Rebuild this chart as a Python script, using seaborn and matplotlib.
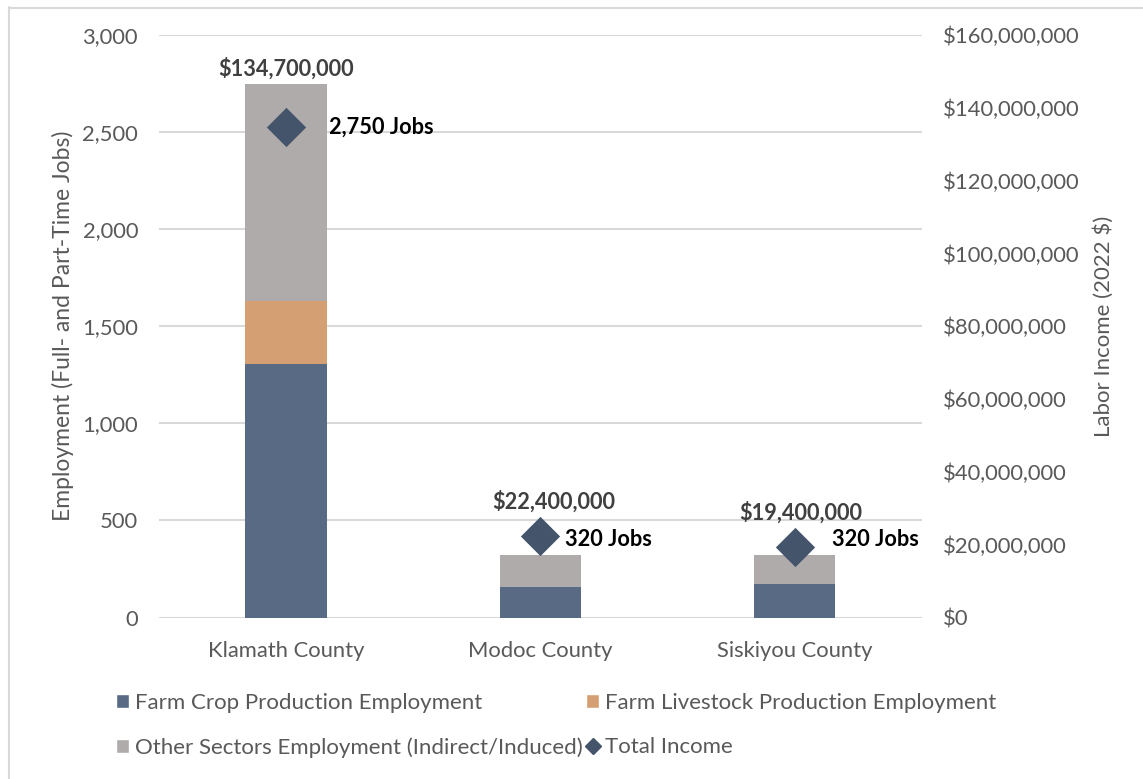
import matplotlib
matplotlib.use("Agg")
import matplotlib.pyplot as plt
from matplotlib.lines import Line2D
from matplotlib.patches import Patch
import seaborn as sns

# Jobs by sector and labor income by county
counties = ["Klamath County", "Modoc County", "Siskiyou County"]
crop_jobs = [1305, 155, 175]
livestock_jobs = [325, 0, 0]
other_jobs = [1120, 165, 145]
total_jobs = [2750, 320, 320]
total_income = [134700000, 22400000, 19400000]

left_ticks = [0, 500, 1000, 1500, 2000, 2500, 3000]
right_ticks = [0, 20e6, 40e6, 60e6, 80e6, 100e6, 120e6, 140e6, 160e6]

C_CROP = "#596A84"
C_LIVE = "#D4A073"
C_OTHER = "#AFABAB"
C_INCOME = "#44546A"
C_TEXT = "#595959"
C_GRID = "#D9D9D9"

sns.set_theme(style="white")
plt.rcParams["font.family"] = ["Lato", "DejaVu Sans"]

fig = plt.figure(figsize=(11.43, 7.79), dpi=100)
ax = fig.add_axes([0.139, 0.2073, 0.6676, 0.7477])

x = list(range(len(counties)))
bw = 0.32
bottom2 = [a + b for a, b in zip(crop_jobs, livestock_jobs)]

sns.barplot(x=x, y=crop_jobs, ax=ax, color=C_CROP, width=bw, saturation=1,
            native_scale=True, linewidth=0)
sns.barplot(x=x, y=livestock_jobs, bottom=crop_jobs, ax=ax, color=C_LIVE,
            width=bw, saturation=1, native_scale=True, linewidth=0)
sns.barplot(x=x, y=other_jobs, bottom=bottom2, ax=ax, color=C_OTHER,
            width=bw, saturation=1, native_scale=True, linewidth=0)

ax.set_xlim(-0.5, 2.5)
ax.set_ylim(0, 3000)
ax.set_yticks(left_ticks)
ax.set_yticklabels([f"{v:,}" for v in left_ticks])
ax.set_xticks(x)
ax.set_xticklabels(counties)
ax.yaxis.grid(True, color=C_GRID, linewidth=1.5)
ax.set_axisbelow(True)
for s in ax.spines.values():
    s.set_visible(False)
ax.tick_params(axis="y", length=0, pad=15, labelsize=15.8, labelcolor=C_TEXT)
ax.tick_params(axis="x", length=0, pad=17, labelsize=15.8, labelcolor=C_TEXT)
ax.set_ylabel("Employment (Full- and Part-Time Jobs)", fontsize=16.5,
              color=C_TEXT, labelpad=6)
ax.set_xlabel("")

ax2 = ax.twinx()
sns.scatterplot(x=x, y=total_income, ax=ax2, marker="D", s=400,
                color=C_INCOME, linewidth=0, zorder=5)
ax2.set_ylim(0, 160e6)
ax2.set_xlim(-0.5, 2.5)
ax2.set_yticks(right_ticks)
ax2.set_yticklabels([f"${v:,.0f}" for v in right_ticks])
for s in ax2.spines.values():
    s.set_visible(False)
ax2.tick_params(axis="y", length=0, pad=15, labelsize=15.8, labelcolor=C_TEXT)
ax2.set_ylabel("Labor Income (2022 $)", fontsize=16, color=C_TEXT,
               labelpad=10, rotation=90)
ax2.grid(False)

# Value labels
income_offsets = [(0, 59), (13, 34), (6, 34)]
jobs_offsets = [(43, 0), (25, -4), (37, 7)]
for i in x:
    ax2.annotate(f"${total_income[i]:,}", (i, total_income[i]),
                 xytext=income_offsets[i], textcoords="offset pixels",
                 ha="center", va="center", fontsize=15.7, fontweight="bold",
                 color="#404040")
    ax2.annotate(f"{total_jobs[i]:,} Jobs", (i, total_income[i]),
                 xytext=jobs_offsets[i], textcoords="offset pixels",
                 ha="left", va="center", fontsize=15.7, fontweight="bold",
                 color="black")

handles = [
    Patch(facecolor=C_CROP, label="Farm Crop Production Employment"),
    Patch(facecolor=C_OTHER, label="Other Sectors Employment (Indirect/Induced)"),
    Patch(facecolor=C_LIVE, label="Farm Livestock Production Employment"),
    Line2D([], [], marker="D", linestyle="none", color=C_INCOME,
           markersize=8, label="Total Income"),
]
leg = fig.legend(handles=handles, ncol=2, loc="upper left",
                 bbox_to_anchor=(107 / 1143, 1 - 684 / 779), frameon=False,
                 fontsize=16, handlelength=0.6, handleheight=0.6,
                 handletextpad=0.25, columnspacing=0.15, labelspacing=1.1,
                 borderaxespad=0)
for t in leg.get_texts():
    t.set_color(C_TEXT)

# Chart frame
fig.add_artist(Line2D([8.5 / 1143, 8.5 / 1143], [0, 1 - 7 / 779],
                      transform=fig.transFigure, color=C_GRID, linewidth=1.5))
fig.add_artist(Line2D([8.5 / 1143, 1], [1 - 7.5 / 779, 1 - 7.5 / 779],
                      transform=fig.transFigure, color=C_GRID, linewidth=1.5))

fig.savefig("out.png", dpi=100, facecolor="white")
